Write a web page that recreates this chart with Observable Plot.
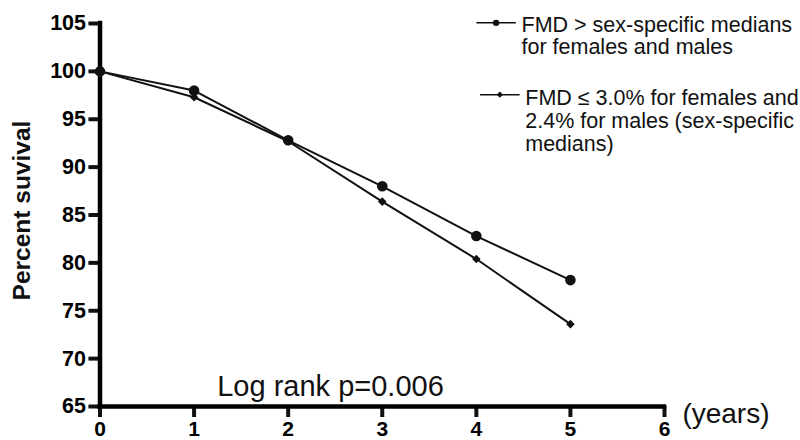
<!DOCTYPE html>
<html><head><meta charset="utf-8">
<script src="https://cdn.jsdelivr.net/npm/d3@7"></script>
<script src="https://cdn.jsdelivr.net/npm/@observablehq/plot@0.6"></script>
<style>
html,body{margin:0;padding:0;background:#fff;overflow:hidden;}
</style>
</head><body><div id="chart"></div>
<script>
// ---- data ----
const years = [0, 1, 2, 3, 4, 5];
const survivalAbove = [100, 98.0, 92.8, 88.0, 82.8, 78.2];   // FMD > medians (circles)
const survivalBelow = [100, 97.3, 92.7, 86.4, 80.4, 73.6];   // FMD <= medians (diamonds)
const seriesLabels = [
  "FMD > sex-specific medians\nfor females and males",
  "FMD \u2264 3.0% for females and\n2.4% for males (sex-specific\nmedians)"
];
const xTicks = [0, 1, 2, 3, 4, 5, 6];
const yTicks = [65, 70, 75, 80, 85, 90, 95, 100, 105];
const yLabel = "Percent suvival";
const xUnit = "(years)";
const annotation = "Log rank p=0.006";

const above = years.map((t, i) => ({t, s: survivalAbove[i]}));
const below = years.map((t, i) => ({t, s: survivalBelow[i]}));

const diamond = {
  draw(ctx, size) {
    const r = Math.sqrt(size / Math.PI);
    ctx.moveTo(0, -r); ctx.lineTo(r, 0); ctx.lineTo(0, r); ctx.lineTo(-r, 0); ctx.closePath();
  }
};

const font = "Arial, 'Liberation Sans', Helvetica, sans-serif";

// legend entries (positions in data units)
const legend = [
  {x1: 4.0, x2: 4.42, xm: 4.21, y: 105.07, tx: 4.48, ty: 105.84, label: seriesLabels[0]},
  {x1: 4.04, x2: 4.46, xm: 4.25, y: 97.57, tx: 4.52, ty: 98.18, label: seriesLabels[1]}
];

const chart = Plot.plot({
  width: 800,
  height: 440,
  marginLeft: 99.5,
  marginRight: 136,
  marginTop: 23,
  marginBottom: 34,
  style: {fontFamily: font, background: "#fff", color: "#000", overflow: "hidden"},
  x: {domain: [0, 6]},
  y: {domain: [65, 105]},
  marks: [
    Plot.axisY({ticks: yTicks, tickFormat: "d", tickSize: 11, tickPadding: 3, fontSize: 21.5, fontWeight: "bold", label: null}),
    Plot.axisX({ticks: xTicks, tickFormat: "d", tickSize: 10, tickPadding: 5, fontSize: 21, fontWeight: "bold", label: null}),
    // thick tick marks
    Plot.ruleY(yTicks, {x1: 0, x2: 0, insetLeft: -11, stroke: "#111", strokeWidth: 4}),
    Plot.ruleX(xTicks, {y1: 65, y2: 65, insetBottom: -11, stroke: "#111", strokeWidth: 4}),
    Plot.ruleX([0], {y1: 65, y2: 105, strokeWidth: 4.5, strokeLinecap: "square"}),
    Plot.ruleY([65], {x1: 0, x2: 6, strokeWidth: 4.5, strokeLinecap: "square"}),
    Plot.line(above, {x: "t", y: "s", stroke: "#111", strokeWidth: 2}),
    Plot.line(below, {x: "t", y: "s", stroke: "#111", strokeWidth: 2}),
    Plot.dot(above, {x: "t", y: "s", r: 5.3, fill: "#111", symbol: "circle"}),
    Plot.dot(below, {x: "t", y: "s", r: 4.3, fill: "#111", symbol: diamond}),
    // legend
    Plot.link(legend, {x1: "x1", x2: "x2", y1: "y", y2: "y", stroke: "#111", strokeWidth: 1.5}),
    Plot.dot(legend.slice(0, 1), {x: "xm", y: "y", r: 3.2, fill: "#111", symbol: "circle"}),
    Plot.dot(legend.slice(1), {x: "xm", y: "y", r: 3.2, fill: "#111", symbol: diamond}),
    Plot.text(legend, {x: "tx", y: "ty", text: "label", textAnchor: "start", lineAnchor: "top", fontSize: 21.5, lineHeight: 1.06, fill: "#111"}),
    // annotations
    Plot.text([annotation], {x: 1.246, y: 67.09, text: d => d, textAnchor: "start", lineAnchor: "middle", fontSize: 29, fill: "#111"}),
    Plot.text([xUnit], {x: 6.19, y: 64.2, text: d => d, textAnchor: "start", lineAnchor: "middle", fontSize: 28, fill: "#111"}),
    Plot.text([yLabel], {frameAnchor: "left", dx: -78.3, dy: -4.5, rotate: -90, text: d => d, textAnchor: "middle", lineAnchor: "middle", fontSize: 24.5, fontWeight: "bold", fill: "#111"})
  ]
});
document.getElementById("chart").appendChild(chart);
</script>
</body></html>
